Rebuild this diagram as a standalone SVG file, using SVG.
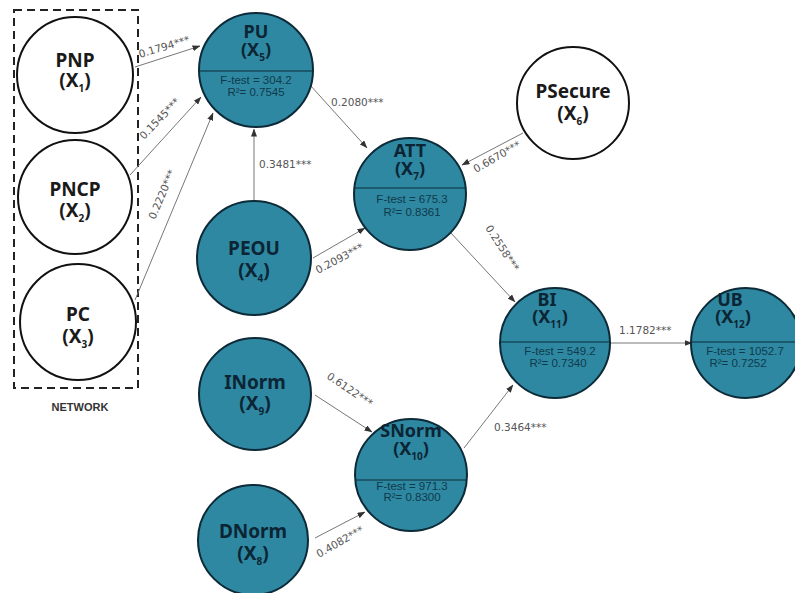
<svg xmlns="http://www.w3.org/2000/svg" width="795" height="593" viewBox="0 0 795 593">
<defs>
<marker id="ah" markerWidth="8" markerHeight="6" refX="7.5" refY="3" orient="auto" markerUnits="userSpaceOnUse">
<path d="M0,0 L8,3 L0,6 Z" fill="#333"/>
</marker>
<style>
.w{fill:#fff;stroke:#111;stroke-width:2}
.t{fill:#2f88a1;stroke:#0c2a38;stroke-width:2}
.div{stroke:#0c2a38;stroke-width:1.2}
.ti{font-family:"Noto Sans","DejaVu Sans",sans-serif;font-weight:bold;font-size:19px;text-anchor:middle}
.ts{font-size:18px}
.tw{fill:#1a1a1a}
.tt{fill:#0b2535}
.sub{font-size:10px}
.st{font-family:"Liberation Sans",Arial,sans-serif;font-size:11.5px;fill:#0e3a4c;text-anchor:middle}
.e{stroke:#777;stroke-width:1;fill:none;marker-end:url(#ah)}
.lb{font-family:"DejaVu Sans",sans-serif;font-size:10.5px;fill:#555}
.box{fill:none;stroke:#222;stroke-width:2;stroke-dasharray:8,5}
.net{font-family:"Liberation Sans",Arial,sans-serif;font-weight:bold;font-size:11px;fill:#333;text-anchor:middle}
</style>
</defs>
<rect width="795" height="593" fill="#fff"/>

<g id="network">
<rect class="box" x="14" y="10" width="124" height="378"/>
<text class="net" x="80" y="411">NETWORK</text>
</g>

<g id="connectors">
<line class="e" x1="135" y1="67" x2="200" y2="46"/>
<line class="e" x1="130" y1="175" x2="201" y2="97"/>
<line class="e" x1="135" y1="300" x2="213" y2="113"/>
<line class="e" x1="254" y1="201" x2="254" y2="129"/>
<line class="e" x1="310" y1="85" x2="367" y2="148"/>
<line class="e" x1="313" y1="258" x2="365" y2="228"/>
<line class="e" x1="523" y1="133" x2="462" y2="165"/>
<line class="e" x1="450" y1="232" x2="515" y2="302"/>
<line class="e" x1="610" y1="343" x2="692" y2="343"/>
<line class="e" x1="464" y1="448" x2="513" y2="385"/>
<line class="e" x1="315" y1="395" x2="372" y2="432"/>
<line class="e" x1="315" y1="538" x2="365" y2="512"/>
<text class="lb" transform="translate(140,58) rotate(-17)">0.1794***</text>
<text class="lb" transform="translate(144,140) rotate(-46)">0.1545***</text>
<text class="lb" transform="translate(155,220) rotate(-67)">0.2220***</text>
<text class="lb" x="259" y="168">0.3481***</text>
<text class="lb" x="331" y="106">0.2080***</text>
<text class="lb" transform="translate(318,274) rotate(-28)">0.2093***</text>
<text class="lb" transform="translate(476,173) rotate(-30)">0.6670***</text>
<text class="lb" transform="translate(485,228) rotate(57)">0.2558***</text>
<text class="lb" x="619" y="334">1.1782***</text>
<text class="lb" x="494" y="431">0.3464***</text>
<text class="lb" transform="translate(326,378) rotate(34)">0.6122***</text>
<text class="lb" transform="translate(319,558) rotate(-30)">0.4082***</text>
</g>

<g id="PNP">
<circle class="w" cx="75" cy="75" r="58"/>
<text class="ti tw" x="75" y="67">PNP</text>
<text class="ti tw" x="75" y="87">(X<tspan class="sub" dy="5">1</tspan><tspan dy="-5">)</tspan></text>
</g>
<g id="PNCP">
<circle class="w" cx="75" cy="197" r="57"/>
<text class="ti tw" x="75" y="196">PNCP</text>
<text class="ti tw" x="75" y="217">(X<tspan class="sub" dy="5">2</tspan><tspan dy="-5">)</tspan></text>
</g>
<g id="PC">
<circle class="w" cx="78" cy="322" r="58"/>
<text class="ti tw" x="78" y="321">PC</text>
<text class="ti tw" x="78" y="343">(X<tspan class="sub" dy="5">3</tspan><tspan dy="-5">)</tspan></text>
</g>
<g id="PSecure">
<circle class="w" cx="573" cy="103" r="56"/>
<text class="ti tw" x="573" y="98">PSecure</text>
<text class="ti tw" x="573" y="120">(X<tspan class="sub" dy="5">6</tspan><tspan dy="-5">)</tspan></text>
</g>

<g id="PU">
<circle class="t" cx="256" cy="70" r="57"/>
<line class="div" x1="199" y1="71" x2="313" y2="71"/>
<text class="ti ts tt" x="256" y="38">PU</text>
<text class="ti ts tt" x="256" y="56">(X<tspan class="sub" dy="5">5</tspan><tspan dy="-5">)</tspan></text>
<text class="st" x="256" y="84">F-test = 304.2</text>
<text class="st" x="256" y="96">R²= 0.7545</text>
</g>
<g id="ATT">
<circle class="t" cx="410" cy="194" r="56"/>
<line class="div" x1="354" y1="188" x2="466" y2="188"/>
<text class="ti ts tt" x="410" y="157">ATT</text>
<text class="ti ts tt" x="410" y="175">(X<tspan class="sub" dy="5">7</tspan><tspan dy="-5">)</tspan></text>
<text class="st" x="412" y="203">F-test = 675.3</text>
<text class="st" x="412" y="216">R²= 0.8361</text>
</g>
<g id="PEOU">
<circle class="t" cx="254" cy="258" r="57"/>
<text class="ti tt" x="254" y="255">PEOU</text>
<text class="ti tt" x="254" y="277">(X<tspan class="sub" dy="5">4</tspan><tspan dy="-5">)</tspan></text>
</g>
<g id="BI">
<circle class="t" cx="555" cy="343" r="55"/>
<line class="div" x1="500" y1="342" x2="610" y2="342"/>
<text class="ti ts tt" x="547" y="306">BI</text>
<text class="ti ts tt" x="550" y="323">(X<tspan class="sub" dy="5">11</tspan><tspan dy="-5">)</tspan></text>
<text class="st" x="560" y="355">F-test = 549.2</text>
<text class="st" x="558" y="367">R²= 0.7340</text>
</g>
<g id="UB">
<circle class="t" cx="746" cy="343" r="55"/>
<line class="div" x1="691" y1="342" x2="801" y2="342"/>
<text class="ti ts tt" x="730" y="306">UB</text>
<text class="ti ts tt" x="733" y="323">(X<tspan class="sub" dy="5">12</tspan><tspan dy="-5">)</tspan></text>
<text class="st" x="745" y="355">F-test = 1052.7</text>
<text class="st" x="738" y="367">R²= 0.7252</text>
</g>
<g id="INorm">
<circle class="t" cx="255" cy="394" r="56"/>
<text class="ti tt" x="255" y="389">INorm</text>
<text class="ti tt" x="255" y="410">(X<tspan class="sub" dy="5">9</tspan><tspan dy="-5">)</tspan></text>
</g>
<g id="SNorm">
<circle class="t" cx="411" cy="475" r="56"/>
<line class="div" x1="356" y1="480" x2="466" y2="480"/>
<text class="ti ts tt" x="411" y="437">SNorm</text>
<text class="ti ts tt" x="411" y="455">(X<tspan class="sub" dy="5">10</tspan><tspan dy="-5">)</tspan></text>
<text class="st" x="412" y="490">F-test = 971.3</text>
<text class="st" x="412" y="501">R²= 0.8300</text>
</g>
<g id="DNorm">
<circle class="t" cx="253" cy="540" r="55"/>
<text class="ti tt" x="253" y="538">DNorm</text>
<text class="ti tt" x="253" y="560">(X<tspan class="sub" dy="5">8</tspan><tspan dy="-5">)</tspan></text>
</g>
</svg>
